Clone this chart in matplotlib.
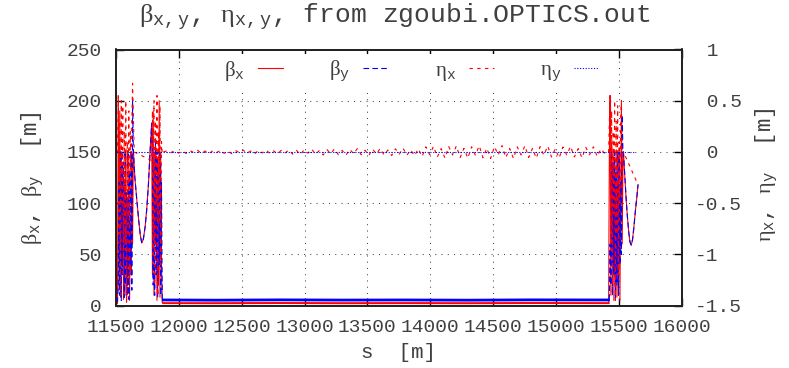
import numpy as np
import matplotlib
matplotlib.use('Agg')
import matplotlib.pyplot as plt
from matplotlib.ticker import FuncFormatter

plt.rcParams['font.family'] = ['Liberation Mono', 'DejaVu Sans']
plt.rcParams['mathtext.fontset'] = 'custom'
plt.rcParams['mathtext.rm'] = 'Liberation Serif'
plt.rcParams['mathtext.tt'] = 'Liberation Mono'
plt.rcParams['mathtext.it'] = 'Liberation Serif:italic'
plt.rcParams['axes.unicode_minus'] = False

# ---- data (s in m) ----
# left insertion, first magnet cluster
s_c1 = [11500, 11512, 11518, 11524, 11530, 11536, 11542, 11548, 11554, 11560, 11566,
        11572, 11578, 11584, 11590, 11596, 11602, 11608, 11614, 11620, 11626, 11632]
bx_c1 = [2, 2, 205, 15, 190, 8, 150, 40, 140, 6, 120, 10, 150, 3, 100, 20, 145, 5, 80, 30, 150, 60]
by_c1 = [4, 4, 20, 120, 10, 150, 5, 150, 30, 140, 8, 150, 20, 110, 10, 150, 6, 130, 40, 150, 15, 200]
ex_c1 = [0, 0, 0.55, -0.8, 0.3, -1.4, 0.5, -0.5, 0.45, -1.2, 0.2, -0.9, 0.5, -1.45, 0.1,
         -0.6, 0.4, -1.3, 0.2, -0.2, 0.3, 0.67]

# left drift (round beam)
s_d1 = [11638, 11650, 11665, 11680, 11693, 11705, 11718, 11732, 11744, 11758, 11771, 11784]
b_d1 = [152, 125, 104, 84, 69, 61, 65, 77, 93, 118, 150, 178]
s_ed1 = [11645, 11784]
ex_d1 = [0.0, -0.085]

# left insertion, second cluster
s_c2 = [11790, 11796, 11802, 11808, 11814, 11820, 11826, 11832, 11838, 11844, 11850,
        11856, 11862, 11868, 11876]
bx_c2 = [30, 190, 10, 150, 60, 120, 5, 140, 20, 200, 8, 150, 40, 3, 2]
by_c2 = [150, 20, 140, 10, 160, 30, 150, 8, 130, 40, 150, 10, 120, 6, 5]
ex_c2 = [0.4, -1.0, 0.5, -1.3, 0.3, -0.5, 0.55, -1.4, 0.2, -0.7, 0.45, -1.1, 0.1, -0.02, 0.0]

# arcs
s_mid_b = [11876, 12300, 12800, 13300, 13800, 14300, 14800, 15420]
bx_mid = [2.3, 2.2, 2.4, 2.2, 2.3, 2.2, 2.4, 2.3]
by_mid = [5.4, 5.2, 5.5, 5.3, 5.4, 5.2, 5.5, 5.4]
ex_mid = [0.0, 0.01, -0.008, 0.014, -0.012, 0.008, -0.015, 0.012, -0.006, 0.016,
          -0.013, 0.009, -0.017, 0.011, -0.007, 0.015, -0.014, 0.01, -0.018, 0.013,
          -0.008, 0.017, -0.012, 0.009, -0.019, 0.015, -0.01, 0.018, -0.015, 0.01,
          -0.02, 0.016, -0.011, 0.019,
          -0.022, 0.015, -0.026, 0.02, -0.012, 0.027, -0.024, 0.014, -0.03, 0.022,
          -0.016, 0.03, -0.027, 0.015, -0.032, 0.025, -0.018, 0.033, -0.028, 0.016,
          -0.035, 0.027, -0.02, 0.034, -0.03, 0.018, -0.036, 0.03, -0.022, 0.037,
          -0.032, 0.02, -0.038,
          0.03, -0.045, 0.05, -0.028, 0.055, -0.05, 0.032, -0.06, 0.052, -0.03,
          0.058, -0.055, 0.035, -0.062, 0.05, -0.032, 0.06, -0.058, 0.036, -0.065,
          0.052, -0.03, 0.062, -0.056, 0.034, -0.064, 0.05, -0.03, 0.06, -0.055,
          0.035, -0.062, 0.052, -0.032, 0.058, -0.05, 0.03, -0.06, 0.048, -0.03,
          0.055, -0.05, 0.032, -0.058, 0.045, -0.028, 0.05, -0.045, 0.03, -0.02, 0.0]
s_mid_e = np.linspace(11876, 15420, len(ex_mid))

# right insertion cluster
s_c3 = [15420, 15426, 15432, 15438, 15444, 15450, 15456, 15462, 15468, 15474,
        15480, 15486, 15492, 15498, 15504, 15510, 15516, 15522, 15528, 15534]
bx_c3 = [2, 150, 205, 10, 160, 40, 150, 5, 130, 20, 150, 8, 120, 30, 150, 5, 110, 198, 60, 140]
by_c3 = [5, 8, 60, 20, 150, 10, 140, 30, 150, 6, 130, 20, 150, 10, 150, 40, 120, 50, 186, 150]
ex_c3 = [0.0, 0.3, 0.55, -0.9, 0.4, -1.3, 0.2, -0.6, 0.5, -1.45, 0.3, -0.8, 0.45, -1.2,
         0.1, -0.5, 0.35, 0.5, -0.4, 0.0]

# right drift to end of file
s_d3 = [15538, 15550, 15560, 15570, 15580, 15590, 15600, 15610, 15620, 15632, 15644, 15654]
b_d3 = [150, 124, 103, 86, 72, 62, 59, 64, 75, 91, 105, 118]
s_ed3 = [15538, 15654]
ex_d3 = [0.0, -0.32]

s_ey = [11500, 15622]
ey = [0.0, 0.0]

# ---- assemble series ----
s_b = np.concatenate([s_c1, s_d1, s_c2, s_mid_b[1:-1], s_c3, s_d3])
bx = np.concatenate([bx_c1, b_d1, bx_c2, bx_mid[1:-1], bx_c3, b_d3])
by = np.concatenate([by_c1, b_d1, by_c2, by_mid[1:-1], by_c3, b_d3])
s_e = np.concatenate([s_c1, s_ed1, s_c2, s_mid_e[1:-1], s_c3, s_ed3])
ex = np.concatenate([ex_c1, ex_d1, ex_c2, ex_mid[1:-1], ex_c3, ex_d3])

RED = '#ff0000'
BLUE = '#0000ff'
TXT = '#404040'

fig = plt.figure(figsize=(7.89, 3.68), dpi=100)
ax = fig.add_axes([116 / 789, 62.5 / 368, 565.5 / 789, 256 / 368])
ax2 = ax.twinx()

l_bx, = ax.plot(s_b, bx, color=RED, lw=0.8, ls='-')
ax.plot(s_mid_b, bx_mid, color=RED, lw=1.4, ls='-')
l_by, = ax.plot(s_b, by, color=BLUE, lw=0.8, ls=(0, (5, 3)))
ax.plot(s_mid_b, by_mid, color=BLUE, lw=2.0, ls='-')
l_ex, = ax2.plot(s_e, ex, color=RED, lw=0.8, ls=(0, (3, 4)))
l_ey, = ax2.plot(s_ey, ey, color=BLUE, lw=0.8, ls=(0, (1, 1.5)))

ax.set_xlim(11500, 16000)
ax.set_ylim(0, 250)
ax2.set_ylim(-1.5, 1)
ax.set_xticks(np.arange(11500, 16001, 500))
ax.set_yticks(np.arange(0, 251, 50))
ax2.set_yticks([-1.5, -1, -0.5, 0, 0.5, 1])
ax2.yaxis.set_major_formatter(FuncFormatter(lambda v, p: ('%g' % v) if v < 0 else ' %g' % v))

ax.grid(True, color='#444444', lw=0.75, ls=(0, (1, 5)))
ax.tick_params(axis='x', direction='in', top=True, length=6, width=1.0, pad=9.5,
               labelsize=14, labelcolor=TXT, color='black')
ax.tick_params(axis='y', direction='in', right=False, length=6, width=1.0, pad=10,
               labelsize=14, labelcolor=TXT, color='black')
ax2.tick_params(axis='y', direction='in', length=6, width=1.0, pad=9.5,
                labelsize=14, labelcolor=TXT, color='black')
for a in (ax, ax2):
    for sp in a.spines.values():
        sp.set_linewidth(1.3)
        sp.set_color('#222222')

leg = ax2.legend([l_bx, l_by, l_ex, l_ey],
                 [r'$\mathrm{\beta}_\mathtt{x}$', r'$\mathrm{\beta}_\mathtt{y}$',
                  r'$\mathrm{\eta}_\mathtt{x}$', r'$\mathrm{\eta}_\mathtt{y}$'],
                 ncol=4, markerfirst=False, loc='center', bbox_to_anchor=(0.523, 0.916),
                 fontsize=15, handlelength=1.2, handletextpad=0.6, columnspacing=2.25,
                 borderpad=0.2, frameon=True, facecolor='white', edgecolor='none',
                 framealpha=1, fancybox=False)
for t in leg.get_texts():
    t.set_color(TXT)

fig.text(0.5, 1 - 17 / 368,
         r'$\mathrm{\beta}_\mathtt{x,y}$, $\mathrm{\eta}_\mathtt{x,y}$, from zgoubi.OPTICS.out',
         ha='center', va='center', fontsize=19, color=TXT)
fig.text(398.8 / 789, 1 - 352 / 368, 's  [m]', ha='center', va='center', fontsize=15, color=TXT)
fig.text(32 / 789, 1 - 178 / 368, r'$\mathrm{\beta}_\mathtt{x}$, $\mathrm{\beta}_\mathtt{y}$  [m]',
         rotation=90, ha='center', va='center', fontsize=16, color=TXT)
fig.text(766 / 789, 1 - 175 / 368, r'$\mathrm{\eta}_\mathtt{x}$, $\mathrm{\eta}_\mathtt{y}$  [m]',
         rotation=90, ha='center', va='center', fontsize=16, color=TXT)

fig.savefig('out.png', dpi=100)
